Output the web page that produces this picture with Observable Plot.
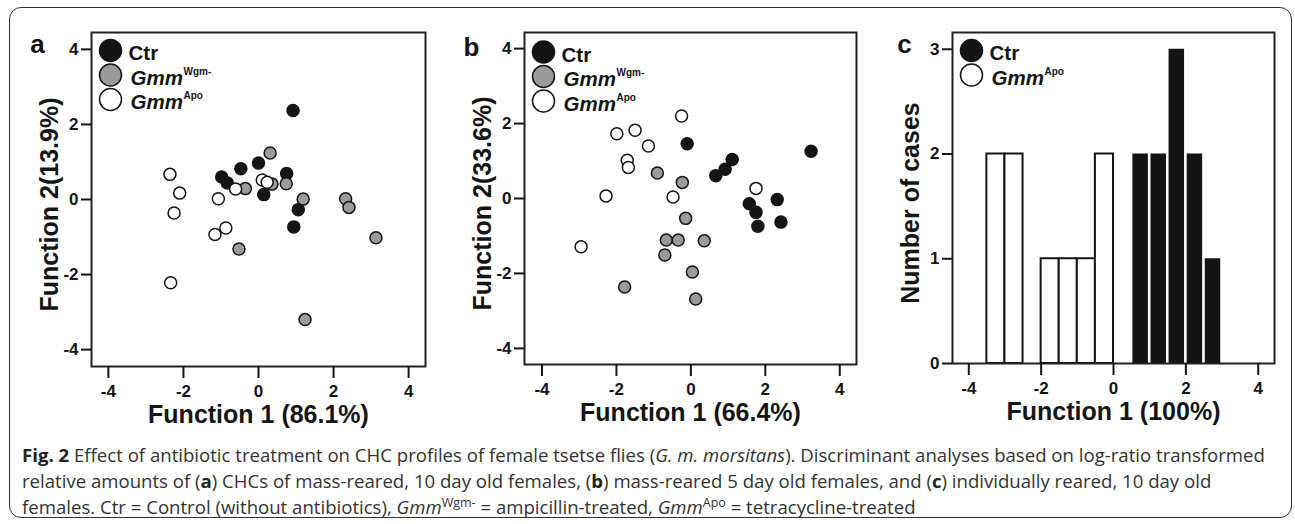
<!DOCTYPE html>
<html>
<head>
<meta charset="utf-8">
<script src="https://cdn.jsdelivr.net/npm/d3@7"></script>
<script src="https://cdn.jsdelivr.net/npm/@observablehq/plot@0.6"></script>
<style>
  html, body { margin: 0; padding: 0; background: #fff; }
  #fig { position: relative; width: 1295px; height: 524px; overflow: hidden; }
  #border { position: absolute; left: 9px; top: 7px; width: 1283px; height: 511px; border: 1.5px solid #333; border-radius: 12px; box-sizing: border-box; }
  .panel { position: absolute; top: 0; }
  .panel svg { overflow: visible; }
  #caption { position: absolute; left: 22px; top: 442px; font-family: "Open Sans", "Noto Sans", sans-serif; font-size: 18.6px; line-height: 26px; color: #333; white-space: nowrap; }
  #caption b { color: #222; }
  #caption sup { font-size: 12.5px; vertical-align: 7px; line-height: 0; }
</style>
</head>
<body>
<div id="fig">
  <div id="border"></div>
  <div class="panel" id="pa" style="left:0px"></div>
  <div class="panel" id="pb" style="left:430px"></div>
  <div class="panel" id="pc" style="left:860px"></div>
  <div id="caption">
    <div><b>Fig. 2</b> Effect of antibiotic treatment on CHC profiles of female tsetse flies (<i>G. m. morsitans</i>). Discriminant analyses based on log-ratio transformed</div>
    <div>relative amounts of (<b>a</b>) CHCs of mass-reared, 10 day old females, (<b>b</b>) mass-reared 5 day old females, and (<b>c</b>) individually reared, 10 day old</div>
    <div>females. Ctr = Control (without antibiotics), <i>Gmm</i><sup>Wgm-</sup> = ampicillin-treated, <i>Gmm</i><sup>Apo</sup> = tetracycline-treated</div>
  </div>
</div>
<script>
// ---------- data ----------
const groups = ["Ctr", "GmmWgm-", "GmmApo"];
const groupColors = ["#141414", "#9b9b9b", "#ffffff"];
const legendMain = ["Ctr", "Gmm", "Gmm"];
const legendSup = ["", "Wgm-", "Apo"];

const xTicks = [-4, -2, 0, 2, 4];
const yTicksAB = [-4, -2, 0, 2, 4];
const yTicksC = [0, 1, 2, 3];

// Panel a
const aCtrX = [0.92, -0.98, -0.83, -0.47, 0.0, 0.75, 0.14, 1.06, 0.94];
const aCtrY = [2.37, 0.60, 0.44, 0.82, 0.97, 0.69, 0.13, -0.27, -0.73];
const aWgmX = [0.31, -0.35, 0.36, 0.74, 1.19, 2.32, 2.41, 3.13, -0.52, 1.24];
const aWgmY = [1.24, 0.29, 0.41, 0.42, 0.01, 0.02, -0.21, -1.02, -1.32, -3.20];
const aApoX = [-2.36, -2.10, -2.25, -1.07, -0.87, -1.16, -2.34, -0.61, 0.10, 0.23];
const aApoY = [0.67, 0.17, -0.36, 0.02, -0.76, -0.93, -2.22, 0.28, 0.52, 0.46];

// Panel b
const bCtrX = [-0.10, 0.67, 0.92, 1.11, 3.23, 1.57, 1.75, 1.80, 2.32, 2.42];
const bCtrY = [1.46, 0.61, 0.78, 1.04, 1.26, -0.14, -0.37, -0.74, -0.03, -0.63];
const bWgmX = [-0.90, -0.23, -0.14, -0.66, -0.34, 0.36, -0.70, 0.04, -1.78, 0.13];
const bWgmY = [0.68, 0.43, -0.53, -1.11, -1.11, -1.13, -1.51, -1.96, -2.36, -2.68];
const bApoX = [-0.25, -1.99, -1.50, -1.14, -1.71, -1.68, -2.28, -0.48, -2.95, 1.75];
const bApoY = [2.20, 1.73, 1.82, 1.40, 1.02, 0.83, 0.07, 0.04, -1.29, 0.27];

// Panel c (histogram of Function 1)
const cApoBinStart = [-3.5, -3.0, -2.0, -1.5, -1.0, -0.5];
const cApoBinEnd   = [-3.0, -2.5, -1.5, -1.0, -0.5, 0.0];
const cApoCount    = [2, 2, 1, 1, 1, 2];
const cCtrBinStart = [0.5, 1.0, 1.5, 2.0, 2.5];
const cCtrBinEnd   = [1.0, 1.5, 2.0, 2.5, 3.0];
const cCtrCount    = [2, 2, 3, 2, 1];

// ---------- helpers ----------
const FONT = "'Liberation Sans', Arial, Helvetica, sans-serif";
const ink = "#151515";

function pts(xs, ys, g) { return xs.map((x, i) => ({x, y: ys[i], group: g})); }
function bins(s, e, c, g) { return s.map((x1, i) => ({x1, x2: e[i], count: c[i], group: g})); }

function legendMarks(idx, dyOff) {
  const marks = [];
  idx.forEach((gi, k) => {
    const cy = 18 + dyOff + k * 24.5;
    marks.push(Plot.dot([groups[gi]], {frameAnchor: "top-left", dx: 19, dy: cy, r: 11,
      fill: groupColors[gi], stroke: ink, strokeWidth: 1.5}));
    marks.push(Plot.text([legendMain[gi]], {frameAnchor: "top-left", text: d => d,
      dx: gi === 0 ? 37 : 39, dy: cy + 3, textAnchor: "start", lineAnchor: "middle", fontSize: 20.5,
      fontStyle: gi === 0 ? "normal" : "italic", fontWeight: "bold", fill: ink}));
    if (legendSup[gi]) {
      marks.push(Plot.text([legendSup[gi]], {frameAnchor: "top-left", text: d => d,
        dx: 92, dy: cy - 3.5, textAnchor: "start", lineAnchor: "middle", fontSize: 10, fontWeight: "bold", fill: ink}));
    }
  });
  return marks;
}

function commonAxes(yTicks) {
  return [
    Plot.frame({stroke: "#222", strokeWidth: 2}),
    Plot.axisX({ticks: xTicks, tickSize: 12, tickPadding: 6, tickFormat: d => String(d),
      fontSize: 17, fontWeight: "bold", strokeWidth: 2, label: null}),
    Plot.axisY({ticks: yTicks, tickSize: 10, tickPadding: 3, tickFormat: d => String(d),
      fontSize: 17, fontWeight: "bold", strokeWidth: 2, label: null})
  ];
}

function titles(xTitle, yTitle, letter, letterDx, letterDy, yDx) {
  return [
    Plot.text([xTitle], {frameAnchor: "bottom", text: d => d, dy: 48, textAnchor: "middle", lineAnchor: "middle",
      fontSize: 25, fontWeight: "bold", fill: ink}),
    Plot.text([yTitle], {frameAnchor: "left", text: d => d, dx: yDx, dy: 5, rotate: -90, textAnchor: "middle", lineAnchor: "middle",
      fontSize: 25, fontWeight: "bold", fill: ink}),
    Plot.text([letter], {frameAnchor: "top-left", text: d => d, dx: letterDx, dy: letterDy, textAnchor: "middle", lineAnchor: "middle",
      fontSize: 26, fontWeight: "bold", fill: ink})
  ];
}

const colorScale = {domain: groups, range: groupColors};

// ---------- panel a ----------
const dataA = [...pts(aCtrX, aCtrY, groups[0]), ...pts(aWgmX, aWgmY, groups[1]), ...pts(aApoX, aApoY, groups[2])];
const plotA = Plot.plot({
  width: 430, height: 430,
  marginLeft: 91, marginRight: 5, marginTop: 32, marginBottom: 64,
  x: {domain: [-4.45, 4.45]}, y: {domain: [-4.45, 4.45]},
  color: colorScale,
  style: {fontFamily: FONT, color: ink, background: "transparent"},
  marks: [
    ...commonAxes(yTicksAB),
    Plot.dot(dataA, {x: "x", y: "y", r: 6, fill: "group", stroke: ink, strokeWidth: 1.5}),
    ...legendMarks([0, 1, 2], 0),
    ...titles("Function 1 (86.1%)", "Function 2(13.9%)", "a", -54, 12, -42)
  ]
});
document.getElementById("pa").appendChild(plotA);

// ---------- panel b ----------
const dataB = [...pts(bCtrX, bCtrY, groups[0]), ...pts(bWgmX, bWgmY, groups[1]), ...pts(bApoX, bApoY, groups[2])];
const plotB = Plot.plot({
  width: 430, height: 430,
  marginLeft: 94, marginRight: 4, marginTop: 32, marginBottom: 66,
  x: {domain: [-4.47, 4.45]}, y: {domain: [-4.43, 4.43]},
  color: colorScale,
  style: {fontFamily: FONT, color: ink, background: "transparent"},
  marks: [
    ...commonAxes(yTicksAB),
    Plot.dot(dataB, {x: "x", y: "y", r: 6, fill: "group", stroke: ink, strokeWidth: 1.5}),
    ...legendMarks([0, 1, 2], 1.5),
    ...titles("Function 1 (66.4%)", "Function 2(33.6%)", "b", -53, 15, -42)
  ]
});
document.getElementById("pb").appendChild(plotB);

// ---------- panel c ----------
const dataCApo = bins(cApoBinStart, cApoBinEnd, cApoCount, groups[2]);
const dataCCtr = bins(cCtrBinStart, cCtrBinEnd, cCtrCount, groups[0]);
const plotC = Plot.plot({
  width: 430, height: 430,
  marginLeft: 92, marginRight: 16, marginTop: 32, marginBottom: 67,
  x: {domain: [-4.45, 4.45]}, y: {domain: [0, 3.16]},
  color: colorScale,
  style: {fontFamily: FONT, color: ink, background: "transparent"},
  marks: [
    Plot.rect(dataCApo, {x1: "x1", x2: "x2", y1: 0, y2: "count", fill: "group", stroke: ink, strokeWidth: 2}),
    Plot.rect(dataCCtr, {x1: "x1", x2: "x2", y1: 0, y2: "count", fill: "group", insetLeft: 1.3, insetRight: 1.3}),
    ...commonAxes(yTicksC),
    ...legendMarks([0, 2], 0),
    ...titles("Function 1 (100%)", "Number of cases", "c", -48, 12, -42)
  ]
});
document.getElementById("pc").appendChild(plotC);
</script>
</body>
</html>
